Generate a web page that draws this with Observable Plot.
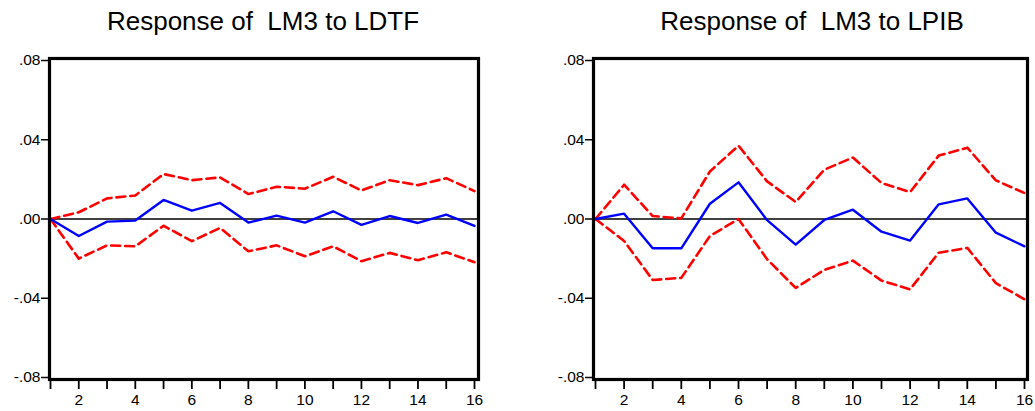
<!DOCTYPE html>
<html>
<head>
<meta charset="utf-8">
<script src="https://cdn.jsdelivr.net/npm/d3@7"></script>
<script src="https://cdn.jsdelivr.net/npm/@observablehq/plot@0.6"></script>
<style>
  html, body { margin: 0; padding: 0; background: #fff; }
  body { width: 1035px; height: 411px; position: relative; overflow: hidden; font-family: "Liberation Sans", Arial, sans-serif; }
  .panel { position: absolute; top: 0; }
  .title { position: absolute; top: 6px; font-size: 26px; color: #000; white-space: pre; text-align: center; transform: translateX(-50%); }
  .panel svg { position: absolute; top: 40px; left: 0; }
</style>
</head>
<body>
<div id="p1" class="panel" style="left:0;width:517px;height:411px"></div>
<div id="p2" class="panel" style="left:517px;width:518px;height:411px"></div>
<script>
const periods = [1,2,3,4,5,6,7,8,9,10,11,12,13,14,15,16];

// Response of LM3 to LDTF
const ldtfResp  = [0, -0.0086, -0.0013, -0.0008, 0.0096, 0.0042, 0.0081, -0.0018, 0.0017, -0.0018, 0.0039, -0.0030, 0.0015, -0.0020, 0.0022, -0.0035];
const ldtfUpper = [0, 0.0034, 0.0104, 0.0119, 0.0227, 0.0196, 0.0210, 0.0126, 0.0163, 0.0153, 0.0213, 0.0144, 0.0196, 0.0171, 0.0206, 0.0141];
const ldtfLower = [0, -0.0200, -0.0133, -0.0138, -0.0034, -0.0112, -0.0045, -0.0163, -0.0133, -0.0188, -0.0138, -0.0213, -0.0171, -0.0208, -0.0168, -0.0218];

// Response of LM3 to LPIB
const lpibResp  = [0, 0.0027, -0.0148, -0.0148, 0.0077, 0.0185, -0.0006, -0.0129, -0.0005, 0.0047, -0.0064, -0.0109, 0.0074, 0.0104, -0.0069, -0.0138];
const lpibUpper = [0, 0.0173, 0.0015, 0.0003, 0.0240, 0.0370, 0.0190, 0.0086, 0.0249, 0.0310, 0.0182, 0.0136, 0.0320, 0.0360, 0.0195, 0.0131];
const lpibLower = [0, -0.0111, -0.0308, -0.0297, -0.0086, 0.0000, -0.0203, -0.0348, -0.0257, -0.0210, -0.0311, -0.0355, -0.0170, -0.0146, -0.0324, -0.0405];

const yTicks = [-0.08, -0.04, 0, 0.04, 0.08];
const xLabelTicks = [2,4,6,8,10,12,14,16];

const titles = ["Response of  LM3 to LDTF", "Response of  LM3 to LPIB"];

function fmtY(d) {
  if (Math.abs(d) < 1e-12) return ".00";
  const s = d3.format(".2f")(Math.abs(d)).replace(/^0/, "");
  return (d < 0 ? "-" : "") + s;
}

function makePanel(resp, upper, lower, opts) {
  const rows = (arr) => periods.map((p, i) => ({p, v: arr[i]}));
  return Plot.plot({
    width: opts.width,
    height: 371,
    marginLeft: opts.marginLeft,
    marginRight: opts.marginRight,
    marginTop: 18,
    marginBottom: 32,
    insetLeft: opts.insetLeft,
    insetRight: opts.insetRight,
    insetTop: 2,
    insetBottom: 2,
    style: {fontFamily: "'Liberation Sans', Arial, sans-serif", fontSize: "15px", color: "#000", background: "#fff", overflow: "visible"},
    x: {domain: [1, 16], axis: null, label: null},
    y: {domain: [-0.08, 0.08], axis: null, label: null},
    marks: [
      Plot.ruleY([0], {stroke: "#000", strokeWidth: 1.6}),
      Plot.line(rows(upper), {x: "p", y: "v", stroke: "#ff0000", strokeWidth: 2.6, strokeDasharray: "9,5"}),
      Plot.line(rows(lower), {x: "p", y: "v", stroke: "#ff0000", strokeWidth: 2.6, strokeDasharray: "9,5"}),
      Plot.line(rows(resp), {x: "p", y: "v", stroke: "#0000ff", strokeWidth: 2.4}),
      Plot.frame({stroke: "#000", strokeWidth: 3.2}),
      Plot.axisY(yTicks, {anchor: "left", label: null, tickSize: 8, tickPadding: 1, tickFormat: fmtY, stroke: "#000", strokeWidth: 1.5, fontSize: 15.5, fill: "#000"}),
      Plot.axisX(periods, {anchor: "bottom", label: null, tickSize: 10, tickPadding: 0, tickFormat: () => "", stroke: "#000", strokeWidth: 1.8}),
      Plot.axisX(xLabelTicks, {anchor: "bottom", label: null, tickSize: 0, tickPadding: 14, tickFormat: d => String(d), fontSize: 15.5, fill: "#000"})
    ]
  });
}

const p1 = document.getElementById("p1");
const p2 = document.getElementById("p2");

const t1 = document.createElement("div");
t1.className = "title"; t1.textContent = titles[0]; t1.style.left = "263px";
p1.appendChild(t1);
p1.appendChild(makePanel(ldtfResp, ldtfUpper, ldtfLower, {width: 517, marginLeft: 49, marginRight: 39, insetLeft: 1, insetRight: 4}));

const t2 = document.createElement("div");
t2.className = "title"; t2.textContent = titles[1]; t2.style.left = "295px";
p2.appendChild(t2);
p2.appendChild(makePanel(lpibResp, lpibUpper, lpibLower, {width: 518, marginLeft: 76, marginRight: 8, insetLeft: 2, insetRight: 3}));
</script>
</body>
</html>
